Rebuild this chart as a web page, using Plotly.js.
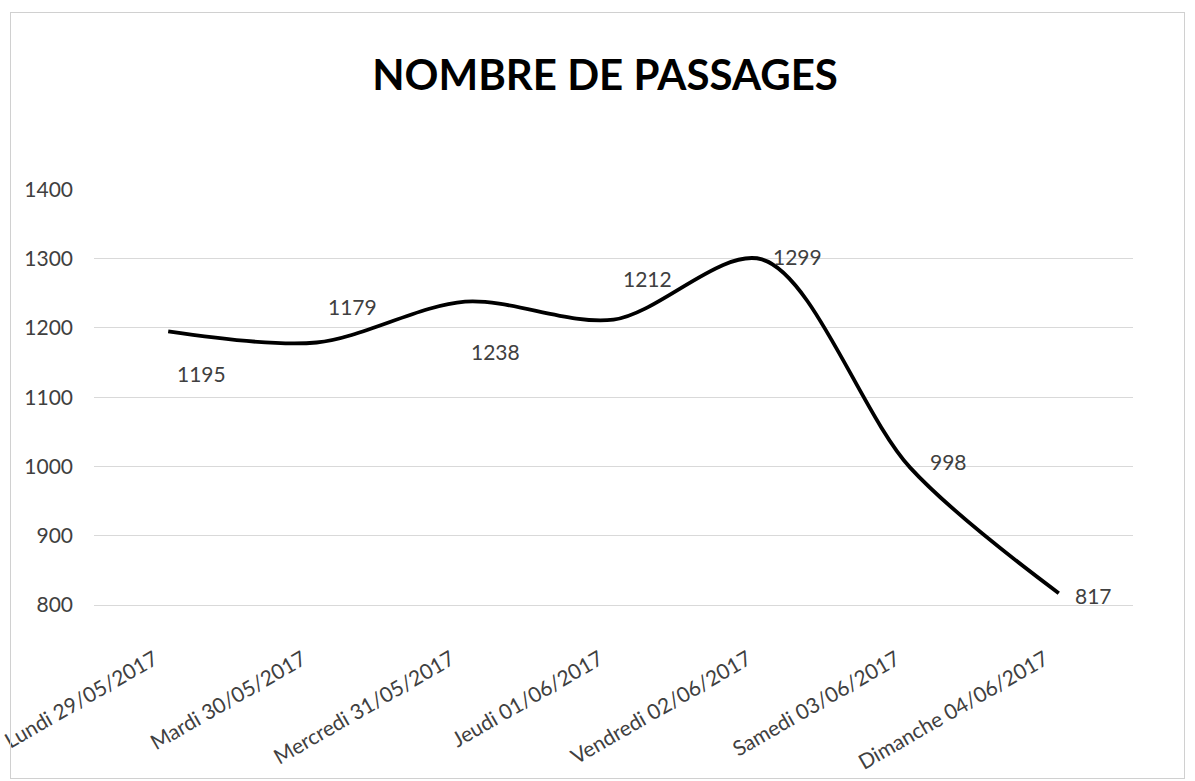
<!DOCTYPE html>
<html>
<head>
<meta charset="utf-8">
<script src="https://cdn.plot.ly/plotly-3.0.1.min.js"></script>
<style>
html,body{margin:0;padding:0;background:#fff;}
#chart{position:absolute;left:0;top:0;width:1195px;height:781px;}
#frame{position:absolute;left:10px;top:12px;width:1175px;height:767px;box-sizing:border-box;border:1px solid #d0d0d0;pointer-events:none;}
</style>
</head>
<body>
<div id="chart"></div>
<div id="frame"></div>
<script>
const categories = ["Lundi 29/05/2017","Mardi 30/05/2017","Mercredi 31/05/2017","Jeudi 01/06/2017","Vendredi 02/06/2017","Samedi 03/06/2017","Dimanche 04/06/2017"];
const passages = [1195, 1179, 1238, 1212, 1299, 998, 817];
const yTicks = [800, 900, 1000, 1100, 1200, 1300, 1400];
// label offsets (px) relative to each point, as placed in the reference
const labelDx = [33, 36, 30, 34, 36, 38, 35];
const labelDy = [-42, 36, -50, 41, 3, 6, -2];

const FONT = "Lato, 'Open Sans', sans-serif";

const trace = {
  x: categories,
  y: passages,
  type: "scatter",
  mode: "lines",
  line: {color: "#000000", width: 3.8, shape: "spline", smoothing: 0.9},
  hoverinfo: "x+y"
};

const annotations = categories.map((c, i) => ({
  x: c, y: passages[i], xref: "x", yref: "y",
  text: String(passages[i]), showarrow: false,
  xshift: labelDx[i], yshift: labelDy[i],
  font: {family: FONT, size: 21, color: "#404040"}
}));

const layout = {
  width: 1195, height: 781,
  margin: {l: 94, r: 62, t: 189, b: 176},
  paper_bgcolor: "rgba(0,0,0,0)", plot_bgcolor: "rgba(0,0,0,0)",
  showlegend: false,
  title: {
    text: "<b>NOMBRE DE PASSAGES</b>",
    font: {family: FONT, size: 42, color: "#000000"},
    xref: "container", x: 0.5063, xanchor: "center",
    yref: "container", y: 0.904, yanchor: "middle"
  },
  xaxis: {
    type: "category",
    range: [-0.5, 6.5],
    showgrid: false, zeroline: false,
    showline: true, linecolor: "#d9d9d9", linewidth: 1,
    ticks: "", tickangle: -30,
    ticklabelstandoff: 33,
    ticklabelshift: -14,
    tickfont: {family: FONT, size: 21, color: "#404040"}
  },
  yaxis: {
    range: [800, 1400.6],
    tickvals: yTicks, ticktext: yTicks.map(String),
    showgrid: true, gridcolor: "#d9d9d9", gridwidth: 1,
    zeroline: false, showline: false, ticks: "",
    ticklabelstandoff: 20,
    tickfont: {family: FONT, size: 21, color: "#404040"}
  },
  annotations: annotations
};

Plotly.newPlot("chart", [trace], layout, {displayModeBar: false, staticPlot: true});
</script>
</body>
</html>
